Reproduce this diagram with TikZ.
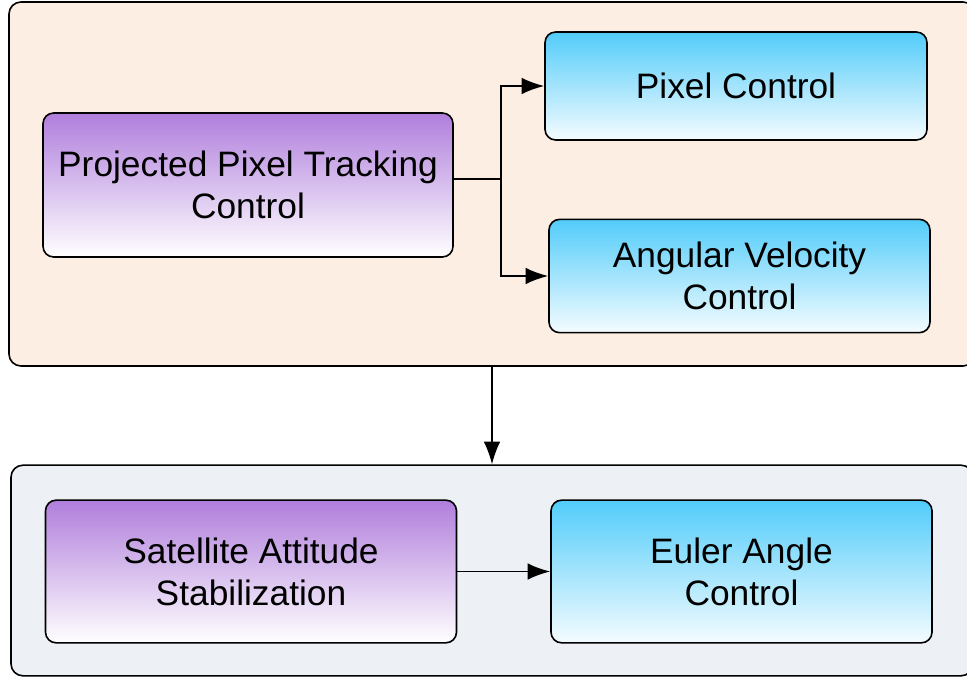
\documentclass[tikz,border=0pt]{standalone}
\usepackage{fontspec}
\setmainfont{Liberation Sans}
\usetikzlibrary{arrows.meta}

\definecolor{peach}{HTML}{FDEEE3}
\definecolor{paleblue}{HTML}{EDF0F5}
\definecolor{lilac}{HTML}{B07EDC}
\definecolor{sky}{HTML}{52CCFA}

\tikzset{
  group/.style={draw, line width=1.2pt, rounded corners=9pt, inner sep=0pt},
  block/.style={draw, line width=1.2pt, rounded corners=8pt, inner sep=0pt,
    align=center, font=\fontsize{26.5}{31.5}\selectfont},
  purplebox/.style={block, top color=lilac, bottom color=white},
  bluebox/.style={block, top color=sky, bottom color=sky!6},
  flow/.style={draw, line width=1.3pt, -{Latex[length=17pt, width=12.5pt]}}
}

\begin{document}
\begin{tikzpicture}[x=0.75pt, y=-0.75pt]
        \useasboundingbox (0,0) rectangle (967,677);
        \clip (0,0) rectangle (967,677);

        % containers
        \node[group, fill=peach, minimum width=724.5pt, minimum height=273pt] (tracking) at (492,184) {};
        \node[group, fill=paleblue, minimum width=721.5pt, minimum height=158pt] (stabil) at (492,570.5) {};

        % upper blocks
        \node[purplebox, minimum width=307.5pt, minimum height=108pt] (proj) at (248,185) {Projected Pixel Tracking\\Control};
        \node[bluebox, minimum width=286.5pt, minimum height=81pt] (pix) at (736,86) {Pixel Control};
        \node[bluebox, minimum width=285.75pt, minimum height=85pt] (ang) at (739.5,276) {Angular Velocity\\Control};

        % lower blocks
        \node[purplebox, minimum width=308.25pt, minimum height=107pt] (sat) at (251,571.5) {Satellite Attitude\\Stabilization};
        \node[bluebox, minimum width=285.75pt, minimum height=107pt] (euler) at (741.5,571.5) {Euler Angle\\Control};

        \coordinate (split) at (501,179);
        \draw[line width=1.3pt] (proj.east |- split) -- (split);
        \draw[flow] (split) |- (pix.west);
        \draw[flow] (split) |- (ang.west);

        \draw[flow] (tracking.south) -- (stabil.north);
        \draw[flow] (sat) -- (euler);
    \end{tikzpicture}
\end{document}
